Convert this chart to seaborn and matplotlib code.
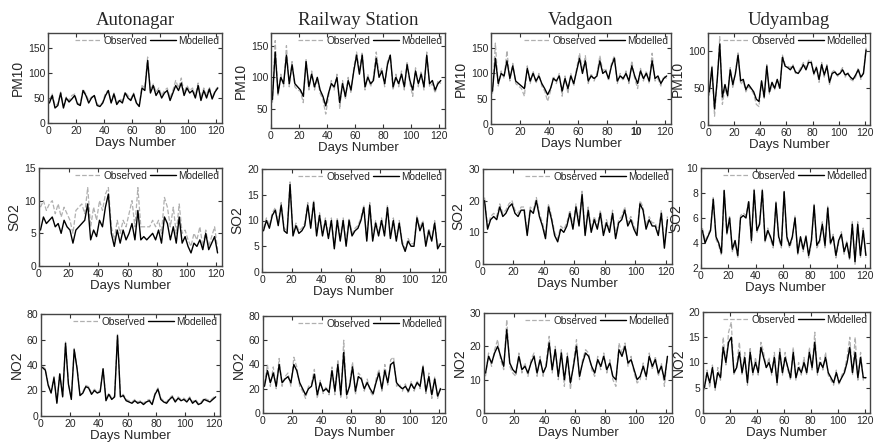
import numpy as np
import pandas as pd
import matplotlib
matplotlib.use("Agg")
import matplotlib.pyplot as plt
import seaborn as sns

# station / pollutant layout
stations = ["Autonagar", "Railway Station", "Vadgaon", "Udyambag"]
pollutants = ["PM10", "SO2", "NO2"]

# values read every second day (day 1, 3, 5, ... 121)
# ---- PM10 ----
pm10_auto_mod = [40, 55, 30, 35, 60, 30, 50, 42, 48, 55, 38, 35, 65, 55, 40, 50, 55, 35, 33, 40,
                 55, 65, 40, 58, 37, 45, 40, 60, 50, 45, 58, 40, 33, 70, 65, 125, 60, 75, 55, 65,
                 50, 60, 65, 45, 60, 75, 65, 80, 55, 70, 60, 65, 50, 75, 45, 65, 50, 68, 48, 62, 70]
pm10_auto_obs = [45, 58, 35, 38, 62, 35, 52, 45, 55, 58, 40, 38, 68, 58, 45, 52, 55, 38, 35, 42,
                 60, 65, 42, 60, 40, 48, 45, 62, 55, 48, 60, 42, 35, 75, 70, 132, 65, 78, 62, 70,
                 55, 65, 70, 50, 65, 85, 70, 90, 60, 75, 65, 70, 55, 80, 50, 70, 55, 72, 50, 65, 72]
pm10_rail_mod = [65, 140, 75, 100, 90, 135, 90, 120, 90, 85, 80, 70, 125, 85, 105, 85, 100, 80, 70, 55,
                 75, 90, 85, 100, 60, 90, 70, 95, 80, 110, 135, 105, 135, 85, 100, 90, 95, 130, 100, 110,
                 90, 120, 135, 85, 100, 90, 105, 85, 120, 95, 80, 110, 90, 105, 85, 135, 90, 95, 80, 90, 95]
pm10_rail_obs = [60, 158, 70, 105, 85, 150, 85, 125, 85, 80, 78, 60, 128, 80, 110, 80, 98, 75, 65, 42,
                 70, 95, 80, 105, 50, 95, 65, 100, 75, 115, 140, 110, 140, 80, 105, 85, 100, 140, 105, 115,
                 85, 125, 135, 80, 105, 85, 110, 80, 125, 90, 70, 115, 85, 110, 80, 140, 85, 90, 75, 95, 90]
pm10_vadg_mod = [65, 130, 80, 100, 95, 125, 90, 115, 85, 80, 75, 70, 110, 85, 100, 85, 95, 80, 70, 58,
                 70, 90, 85, 95, 65, 90, 70, 95, 80, 105, 130, 100, 125, 85, 95, 90, 95, 125, 100, 105,
                 90, 115, 130, 85, 95, 90, 100, 85, 115, 95, 80, 105, 90, 100, 85, 125, 90, 95, 80, 90, 95]
pm10_vadg_obs = [60, 160, 75, 105, 90, 145, 85, 120, 80, 75, 70, 55, 115, 80, 105, 80, 100, 75, 65, 45,
                 65, 95, 80, 100, 55, 95, 60, 100, 75, 110, 140, 105, 135, 80, 100, 85, 100, 135, 105, 110,
                 85, 120, 135, 80, 100, 85, 105, 80, 125, 90, 70, 110, 85, 105, 80, 140, 85, 90, 75, 95, 90]
pm10_udya_mod = [45, 78, 22, 60, 110, 38, 55, 40, 75, 55, 70, 95, 60, 62, 48, 55, 50, 45, 35, 32,
                 60, 38, 80, 45, 58, 50, 62, 50, 92, 80, 78, 75, 80, 72, 70, 75, 82, 75, 85, 85,
                 70, 78, 62, 82, 68, 80, 58, 70, 72, 68, 70, 75, 68, 70, 65, 62, 68, 75, 65, 70, 102]
pm10_udya_obs = [40, 80, 12, 58, 120, 28, 50, 38, 78, 50, 72, 98, 55, 60, 45, 52, 48, 42, 28, 25,
                 58, 35, 82, 42, 55, 48, 60, 48, 95, 82, 80, 78, 82, 70, 72, 78, 85, 78, 88, 88,
                 68, 80, 58, 85, 65, 82, 55, 72, 75, 65, 72, 78, 65, 72, 62, 60, 65, 78, 62, 72, 105]

# ---- SO2 ----
so2_auto_mod = [5.5, 7.5, 6.5, 7.0, 7.5, 6.0, 6.5, 5.0, 7.0, 6.0, 5.5, 3.5, 5.5, 6.0, 6.5, 7.0, 9.5, 4.0, 5.5, 4.5,
                7.0, 6.0, 9.0, 11.0, 5.0, 3.0, 5.5, 3.5, 5.5, 4.0, 5.0, 6.5, 4.0, 8.5, 4.0, 4.5, 4.0, 4.5, 5.0, 4.0,
                5.5, 3.5, 7.5, 6.5, 4.0, 6.0, 3.5, 7.5, 3.5, 4.5, 3.0, 2.0, 3.5, 3.0, 4.0, 2.5, 5.0, 2.5, 3.5, 4.5, 2.0]
so2_auto_obs = [9, 10, 8.5, 9.5, 10, 8, 9.5, 7.5, 9, 8, 7, 5, 8.5, 9, 9.5, 8, 12, 6, 9, 7,
                10, 8.5, 11, 12, 6, 4, 7, 5, 7, 6, 8, 10, 6, 12, 6, 6, 6, 6, 7, 6,
                7, 5, 10.5, 9, 6, 9, 5, 9.5, 5, 5.5, 4, 3, 5, 4, 6, 3, 5.5, 3, 4.5, 6, 2.5]
so2_rail_mod = [8, 10, 8.5, 11, 12, 9, 13, 8, 7.5, 17, 7, 9, 7.5, 8, 9, 13, 8.5, 13.5, 7, 11,
                7, 10, 6.5, 10, 4.5, 10, 6, 10, 5, 10, 7, 8, 8.5, 10, 12.5, 6, 13, 6, 9.5, 7,
                10, 7, 12.5, 6.5, 10, 6, 9.5, 5.5, 4, 6, 5, 5, 10.5, 8, 9.5, 5, 8, 6, 9.5, 4.5, 5.5]
so2_rail_obs = [8.5, 10.5, 9, 11.5, 12.5, 9.5, 13.5, 8.5, 8, 17.5, 7.5, 9.5, 8, 8.5, 9.5, 13.5, 9, 14, 7.5, 11.5,
                7.5, 10.5, 7, 10.5, 5, 10.5, 6.5, 10.5, 5.5, 10.5, 7.5, 8.5, 9, 10.5, 13, 6.5, 13.5, 6.5, 10, 7.5,
                10.5, 7.5, 13, 7, 10.5, 6.5, 10, 6, 4.5, 6.5, 5.5, 5.5, 11, 8.5, 10, 5.5, 8.5, 6.5, 10, 5, 6]
so2_vadg_mod = [20, 11, 14, 15, 14, 18, 15, 16, 18, 19, 16, 15, 17, 17, 9, 17, 16, 20, 15, 12,
                8, 18, 14, 9, 7, 11, 10, 12, 16, 11, 18, 12, 22, 9, 17, 10, 14, 11, 16, 9,
                13, 10, 16, 8, 13, 14, 17, 12, 14, 11, 9, 19, 17, 11, 14, 12, 12, 9, 16, 5, 14]
so2_vadg_obs = [21, 12, 15, 16, 15, 19, 16, 17, 19, 20, 17, 16, 18, 18, 10, 18, 17, 21, 16, 13,
                9, 19, 15, 10, 8, 12, 11, 13, 17, 12, 19, 13, 23, 10, 18, 11, 15, 12, 17, 10,
                14, 11, 17, 9, 14, 15, 18, 13, 15, 12, 10, 20, 18, 12, 15, 13, 13, 10, 17, 6, 15]
so2_udya_mod = [5, 4, 4.5, 5, 7.5, 4.5, 4, 3.2, 8.2, 4.8, 6, 3.5, 4.2, 3, 6, 6.2, 6, 7.3, 4.2, 8.2,
                5, 5.5, 8.2, 4.2, 5, 4.5, 3.8, 7.2, 4.5, 3.8, 8.1, 4.5, 3.8, 4.5, 6, 3.2, 4.5, 3.5, 4.5, 3,
                4.2, 7, 3.8, 4.2, 5.5, 3.8, 6.8, 4, 4.5, 3, 4.2, 4.7, 3.3, 4, 2.8, 5.5, 2.5, 5.5, 3, 5, 3]
so2_udya_obs = [5.2, 4.2, 4.6, 5.2, 7.7, 4.3, 3.8, 3, 8.3, 4.6, 6.2, 3.3, 4, 2.8, 6.2, 6.4, 6.2, 7.4, 4, 8.3,
                4.8, 5.7, 8.3, 4, 5.2, 4.3, 3.6, 7.3, 4.3, 3.6, 8.2, 4.3, 3.6, 4.3, 6.2, 3, 4.3, 3.3, 4.7, 2.8,
                4, 7.1, 3.6, 4, 5.7, 3.6, 7, 3.8, 4.7, 2.8, 4, 4.9, 3.1, 4.2, 2.6, 5.7, 2.3, 5.7, 2.8, 5.2, 2.8]

# ---- NO2 ----
no2_auto_mod = [38, 36, 24, 18, 30, 10, 33, 15, 57, 25, 13, 52, 37, 16, 18, 23, 22, 17, 20, 18,
                19, 37, 12, 17, 13, 15, 63, 15, 16, 12, 11, 10, 12, 10, 11, 9, 11, 12, 9, 17,
                21, 13, 11, 10, 13, 15, 11, 14, 12, 13, 11, 14, 10, 12, 9, 10, 13, 12, 11, 13, 15]
no2_auto_obs = [39, 37, 25, 19, 31, 11, 34, 16, 58, 26, 14, 53, 38, 17, 19, 24, 23, 18, 21, 19,
                20, 38, 13, 18, 14, 16, 64, 16, 17, 13, 12, 11, 13, 11, 12, 10, 12, 13, 10, 18,
                22, 14, 12, 11, 14, 16, 12, 15, 13, 14, 12, 15, 11, 13, 10, 11, 14, 13, 12, 14, 16]
no2_rail_mod = [22, 35, 25, 33, 22, 40, 25, 28, 30, 25, 40, 35, 25, 20, 15, 20, 22, 32, 15, 25,
                18, 20, 17, 35, 18, 40, 15, 50, 15, 22, 38, 18, 30, 28, 20, 25, 20, 16, 25, 33,
                20, 35, 25, 40, 42, 25, 22, 20, 22, 18, 24, 20, 25, 22, 38, 18, 30, 15, 28, 14, 20]
no2_rail_obs = [24, 40, 22, 38, 20, 45, 22, 30, 33, 22, 46, 38, 22, 18, 12, 22, 24, 36, 12, 27,
                16, 22, 15, 38, 15, 44, 12, 60, 12, 24, 42, 15, 33, 30, 18, 28, 18, 14, 28, 36,
                18, 40, 23, 44, 46, 22, 24, 18, 24, 16, 26, 18, 27, 20, 40, 16, 33, 12, 30, 12, 22]
no2_vadg_mod = [12, 17, 15, 18, 20, 17, 14, 25, 15, 13, 12, 17, 13, 14, 12, 15, 17, 12, 16, 12,
                14, 21, 13, 19, 11, 18, 10, 17, 9, 14, 20, 11, 15, 18, 17, 14, 12, 16, 14, 17,
                13, 15, 11, 10, 19, 17, 20, 15, 16, 13, 10, 11, 14, 11, 17, 14, 16, 12, 14, 10, 17]
no2_vadg_obs = [11, 18, 14, 19, 22, 16, 13, 28, 14, 12, 11, 18, 12, 15, 11, 16, 18, 11, 17, 11,
                15, 23, 12, 20, 10, 19, 8, 18, 7, 15, 22, 10, 16, 19, 18, 13, 11, 17, 13, 18,
                12, 16, 10, 8, 21, 18, 21, 14, 17, 12, 9, 10, 15, 10, 18, 13, 17, 11, 15, 8, 17]
no2_udya_mod = [5, 8, 6, 9, 5, 8, 7, 13, 10, 14, 15, 8, 9, 12, 8, 11, 6, 12, 8, 10,
                8, 13, 11, 9, 10, 8, 11, 6, 12, 8, 11, 9, 7, 12, 7, 9, 8, 10, 8, 12,
                9, 14, 8, 10, 9, 11, 8, 7, 6, 8, 6, 7, 8, 10, 13, 8, 12, 7, 11, 7, 7]
no2_udya_obs = [4.5, 8.5, 5, 9.5, 4.5, 9, 6.5, 15, 9.5, 16, 18, 7.5, 9.5, 14, 7.5, 12, 5.5, 13, 7.5, 11,
                7.5, 14, 12, 9, 11, 7.5, 12, 5.5, 13, 7.5, 12, 8.5, 6.5, 13, 6.5, 10, 7.5, 11, 7.5, 13,
                8.5, 16, 7.5, 11, 8.5, 12, 7.5, 6.5, 5.5, 8.5, 5.5, 7.5, 8.5, 11, 15, 7.5, 15, 6.5, 12, 6.5, 7]

series = {
    ("PM10", 0): (pm10_auto_obs, pm10_auto_mod), ("PM10", 1): (pm10_rail_obs, pm10_rail_mod),
    ("PM10", 2): (pm10_vadg_obs, pm10_vadg_mod), ("PM10", 3): (pm10_udya_obs, pm10_udya_mod),
    ("SO2", 0): (so2_auto_obs, so2_auto_mod), ("SO2", 1): (so2_rail_obs, so2_rail_mod),
    ("SO2", 2): (so2_vadg_obs, so2_vadg_mod), ("SO2", 3): (so2_udya_obs, so2_udya_mod),
    ("NO2", 0): (no2_auto_obs, no2_auto_mod), ("NO2", 1): (no2_rail_obs, no2_rail_mod),
    ("NO2", 2): (no2_vadg_obs, no2_vadg_mod), ("NO2", 3): (no2_udya_obs, no2_udya_mod),
}

# axis limits / ticks per panel
ylims = {
    ("PM10", 0): (0, 180, [0, 50, 100, 150]), ("PM10", 1): (20, 170, [50, 100, 150]),
    ("PM10", 2): (0, 180, [0, 50, 100, 150]), ("PM10", 3): (0, 125, [0, 50, 100]),
    ("SO2", 0): (0, 15, [0, 5, 10, 15]), ("SO2", 1): (0, 20, [0, 5, 10, 15, 20]),
    ("SO2", 2): (0, 30, [0, 10, 20, 30]), ("SO2", 3): (2, 10, [2, 4, 6, 8, 10]),
    ("NO2", 0): (0, 80, [0, 20, 40, 60, 80]), ("NO2", 1): (0, 80, [0, 20, 40, 60, 80]),
    ("NO2", 2): (0, 30, [0, 10, 20, 30]), ("NO2", 3): (0, 20, [0, 5, 10, 15, 20]),
}

# axes boxes in pixels: left, top, right, bottom
boxes = {
    ("PM10", 0): (48, 33, 222, 123), ("PM10", 1): (271, 33, 445, 128),
    ("PM10", 2): (491, 33, 671, 124), ("PM10", 3): (708, 33, 870, 125),
    ("SO2", 0): (39, 168, 222, 266), ("SO2", 1): (262, 169, 445, 272),
    ("SO2", 2): (483, 169, 672, 264), ("SO2", 3): (701, 168, 870, 268),
    ("NO2", 0): (41, 314, 220, 416), ("NO2", 1): (263, 316, 445, 413),
    ("NO2", 2): (484, 313, 672, 413), ("NO2", 3): (703, 312, 870, 413),
}

sns.set_style("ticks")
plt.rcParams["font.family"] = ["Liberation Sans", "DejaVu Sans"]
plt.rcParams["xtick.direction"] = "in"
plt.rcParams["ytick.direction"] = "in"

W, H = 876, 445
fig = plt.figure(figsize=(W / 100, H / 100), dpi=100)

for (pol, si), (obs, mod) in series.items():
    l, t, r, b = boxes[(pol, si)]
    ax = fig.add_axes([l / W, 1 - b / H, (r - l) / W, (b - t) / H])
    days = np.arange(len(mod)) * 2 + 1
    df = pd.DataFrame({"day": days, "obs": obs, "mod": mod})
    sns.lineplot(data=df, x="day", y="obs", ax=ax, color="#b0b0b0", lw=0.9,
                 linestyle="--", label="Observed")
    sns.lineplot(data=df, x="day", y="mod", ax=ax, color="black", lw=1.0,
                 label="Modelled")
    lo, hi, yt = ylims[(pol, si)]
    ax.set_ylim(lo, hi)
    ax.set_yticks(yt)
    ax.set_xlim(0, 124)
    ax.set_xticks([0, 20, 40, 60, 80, 100, 120])
    if pol == "PM10" and si == 2:
        ax.set_xticklabels(["0", "20", "40", "60", "80", "10", "120"])
        ax.get_xticklabels()[5].set_fontweight("bold")
    ax.tick_params(labelsize=7.5, length=3, width=0.8, top=True, right=True,
                   color="#333333", pad=2)
    for sp in ax.spines.values():
        sp.set_color("#444444")
        sp.set_linewidth(1.0)
    ax.set_ylabel(pol, fontsize=10, labelpad=2)
    ax.set_xlabel("Days Number", fontsize=9.5, labelpad=1)
    if pol == "PM10":
        ax.set_title(stations[si], fontsize=13.5, family="Liberation Serif", pad=6)
    ax.legend(loc="upper right", frameon=False, ncol=2, fontsize=7.3,
              handlelength=2.6, handletextpad=0.2, columnspacing=0.3,
              borderaxespad=0.15, borderpad=0.1)

fig.savefig("out.png", dpi=100)
